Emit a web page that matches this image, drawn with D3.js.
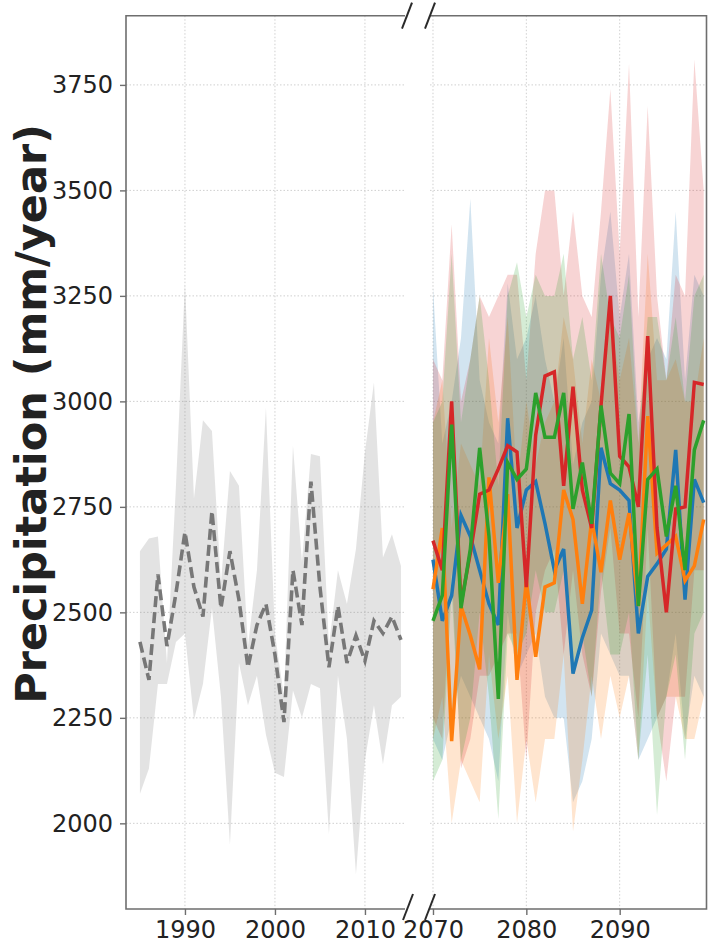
<!DOCTYPE html>
<html>
<head>
<meta charset="utf-8">
<script src="https://cdn.jsdelivr.net/npm/d3@7"></script>
<style>
  body { margin: 0; background: #fff; }
  svg text { font-family: "DejaVu Sans", sans-serif; fill: #222; }
</style>
</head>
<body>
<svg id="chart" width="709" height="951"></svg>
<script>
// ---------- DATA ---------- //
const histYears = d3.range(1985, 2015);
const futYears = d3.range(2070, 2100);

const histMean = [2430, 2340, 2590, 2420, 2545, 2690, 2560, 2490, 2740, 2510,
  2645, 2530, 2370, 2470, 2520, 2400, 2240, 2600, 2470, 2810,
  2560, 2370, 2515, 2380, 2445, 2385, 2480, 2450, 2490, 2435];
const histUp = [2645, 2675, 2680, 2380, 2800, 3280, 2770, 2955, 2930, 2570,
  2835, 2800, 2420, 2600, 2985, 2450, 2300, 2895, 2620, 2875,
  2870, 2420, 2600, 2520, 2650, 2880, 3045, 2630, 2685, 2610];
const histLo = [2070, 2130, 2330, 2330, 2430, 2450, 2245, 2330, 2510, 2300,
  1950, 2380, 2280, 2350, 2210, 2120, 2110, 2315, 2250, 2330,
  2320, 1975, 2350, 2200, 1880, 2150, 2280, 2140, 2280, 2300];

const blueMean = [2625, 2480, 2540, 2730, 2680, 2600, 2520, 2470, 2960, 2700,
  2790, 2810, 2710, 2600, 2650, 2355, 2440, 2505, 2890, 2805,
  2790, 2765, 2450, 2585, 2615, 2650, 2885, 2530, 2815, 2760];
const blueUp = [3270, 2900, 3000, 3150, 3480, 3050, 2950, 2900, 3280, 3100,
  3150, 3250, 3100, 3000, 3150, 2850, 2950, 3000, 3300, 3450,
  3200, 3350, 2950, 3100, 3150, 3100, 3450, 3050, 3300, 3250];
const blueLo = [2200, 2150, 2250, 2350, 2300, 2250, 2200, 2100, 2500, 2350,
  2400, 2450, 2300, 2250, 2250, 2050, 2100, 2200, 2450, 2400,
  2350, 2350, 2150, 2200, 2250, 2300, 2450, 2200, 2350, 2300];

const orangeMean = [2555, 2700, 2195, 2515, 2445, 2365, 2820, 2570, 2780, 2340,
  2575, 2395, 2560, 2570, 2790, 2720, 2520, 2720, 2595, 2765,
  2625, 2735, 2515, 2965, 2640, 2660, 2680, 2575, 2610, 2720];
const orangeUp = [2950, 3050, 2700, 2900, 2850, 2800, 3150, 2950, 3200, 2800,
  3000, 2850, 2950, 3000, 3200, 3100, 2900, 3100, 3000, 3200,
  3050, 3150, 2900, 3350, 3050, 3050, 3100, 3000, 3000, 3150];
const orangeLo = [2200, 2300, 2000, 2150, 2100, 2050, 2400, 2200, 2350, 2000,
  2200, 2050, 2200, 2200, 2400, 1980, 2150, 2350, 2200, 2350,
  2250, 2350, 2150, 2550, 2250, 2300, 2300, 2200, 2200, 2300];

const greenMean = [2480, 2540, 2945, 2510, 2650, 2890, 2680, 2295, 2855, 2815,
  2840, 3020, 2915, 2915, 3020, 2745, 2855, 2710, 2990, 2830,
  2805, 2970, 2515, 2815, 2840, 2680, 2800, 2600, 2885, 2955];
const greenUp = [2950, 3000, 3350, 2950, 3100, 3250, 3050, 2800, 3250, 3330,
  3200, 3300, 3250, 3250, 3350, 3100, 3200, 3050, 3350, 3200,
  3150, 3300, 2900, 3200, 3200, 3050, 3200, 3000, 3250, 3300];
const greenLo = [2100, 2150, 2550, 2150, 2250, 2500, 2300, 2010, 2450, 2400,
  2450, 2600, 2500, 2500, 2600, 2350, 2450, 2300, 2600, 2400,
  2400, 2500, 2150, 2400, 2020, 2300, 2400, 2150, 2450, 2500];

const redMean = [2670, 2600, 3000, 2520, 2640, 2780, 2790, 2840, 2895, 2880,
  2560, 2920, 3060, 3070, 2800, 3035, 2790, 2700, 2990, 3250,
  2870, 2845, 2750, 3155, 2700, 2500, 2745, 2750, 3045, 3040];
const redUp = [3100, 3050, 3420, 3000, 3100, 3250, 3200, 3250, 3300, 3300,
  3050, 3350, 3500, 3500, 3250, 3450, 3250, 3200, 3450, 3740,
  3350, 3800, 3200, 3700, 3250, 3050, 3300, 3250, 3810, 3500];
const redLo = [2250, 2200, 2600, 2130, 2200, 2350, 2350, 2400, 2450, 2450,
  2150, 2500, 2600, 2650, 2400, 2600, 2400, 2300, 2550, 2700,
  2450, 2450, 2250, 2700, 2250, 2100, 2300, 2300, 2600, 2600];

const yTicks = [2000, 2250, 2500, 2750, 3000, 3250, 3500, 3750];
const leftTicks = [1990, 2000, 2010];
const rightTicks = [2070, 2080, 2090];
const yLabel = 'Precipitation (mm/year)';

// ---------- LAYOUT ---------- //
const plotTop = 15.7, plotBottom = 909;
const L = { x0: 126, x1: 405 };
const R = { x0: 430, x1: 706.5 };

const svg = d3.select('#chart');

const y = d3.scaleLinear().domain([1797, 3914]).range([plotBottom, plotTop]);
const xL = d3.scaleLinear().domain([1983.45, 2014.45]).range([L.x0, L.x1]);
const xR = d3.scaleLinear().domain([2069.68, 2099.3]).range([R.x0, R.x1]);

const defs = svg.append('defs');
defs.append('clipPath').attr('id', 'clipL').append('rect')
  .attr('x', L.x0).attr('y', plotTop).attr('width', L.x1 - L.x0).attr('height', plotBottom - plotTop);
defs.append('clipPath').attr('id', 'clipR').append('rect')
  .attr('x', R.x0).attr('y', plotTop).attr('width', R.x1 - R.x0).attr('height', plotBottom - plotTop);

// ---------- GRID ---------- //
function grid(panel, x, ticks, clip) {
  const g = svg.append('g').attr('clip-path', `url(#${clip})`);
  g.selectAll('.gy').data(yTicks).join('line')
    .attr('x1', panel.x0).attr('x2', panel.x1)
    .attr('y1', d => y(d)).attr('y2', d => y(d))
    .attr('stroke', '#cfcfcf').attr('stroke-width', 1).attr('stroke-dasharray', '1.5,2');
  g.selectAll('.gx').data(ticks).join('line')
    .attr('x1', d => x(d)).attr('x2', d => x(d))
    .attr('y1', plotTop).attr('y2', plotBottom)
    .attr('stroke', '#cfcfcf').attr('stroke-width', 1).attr('stroke-dasharray', '1.5,2');
}
grid(L, xL, leftTicks, 'clipL');
grid(R, xR, rightTicks, 'clipR');

// ---------- HISTORICAL ---------- //
const gL = svg.append('g').attr('clip-path', 'url(#clipL)');
const areaL = d3.area()
  .x((d, i) => xL(histYears[i]))
  .y0((d, i) => y(histLo[i]))
  .y1((d, i) => y(histUp[i]));
gL.append('path').datum(histUp).attr('d', areaL)
  .attr('fill', 'gray').attr('fill-opacity', 0.22);
const lineL = d3.line().x((d, i) => xL(histYears[i])).y(d => y(d));
gL.append('path').datum(histMean).attr('d', lineL)
  .attr('fill', 'none').attr('stroke', '#777').attr('stroke-width', 3.6)
  .attr('stroke-dasharray', '11,5');

// ---------- FUTURE ---------- //
const gR = svg.append('g').attr('clip-path', 'url(#clipR)');
const series = [
  { mean: blueMean, up: blueUp, lo: blueLo, color: '#1f77b4' },
  { mean: orangeMean, up: orangeUp, lo: orangeLo, color: '#ff7f0e' },
  { mean: redMean, up: redUp, lo: redLo, color: '#d62728' },
  { mean: greenMean, up: greenUp, lo: greenLo, color: '#2ca02c' }
];
series.forEach(s => {
  const area = d3.area()
    .x((d, i) => xR(futYears[i]))
    .y0((d, i) => y(s.lo[i]))
    .y1((d, i) => y(s.up[i]));
  gR.append('path').datum(s.up).attr('d', area)
    .attr('fill', s.color).attr('fill-opacity', 0.2);
});
const lineR = d3.line().x((d, i) => xR(futYears[i])).y(d => y(d));
series.forEach(s => {
  gR.append('path').datum(s.mean).attr('d', lineR)
    .attr('fill', 'none').attr('stroke', s.color).attr('stroke-width', 3.5)
    .attr('stroke-linejoin', 'miter');
});

// ---------- SPINES & AXES ---------- //
const spine = '#6e6e6e';
svg.append('path')
  .attr('d', `M${L.x1},${plotTop}H${L.x0}V${plotBottom}H${L.x1}`)
  .attr('fill', 'none').attr('stroke', spine).attr('stroke-width', 1.6);
svg.append('path')
  .attr('d', `M${R.x0},${plotTop}H${R.x1}V${plotBottom}H${R.x0}`)
  .attr('fill', 'none').attr('stroke', spine).attr('stroke-width', 1.6);

const yAxis = svg.append('g').attr('transform', `translate(${L.x0},0)`)
  .call(d3.axisLeft(y).tickValues(yTicks).tickSize(6).tickPadding(7).tickFormat(d3.format('d')));
const xAxisL = svg.append('g').attr('transform', `translate(0,${plotBottom})`)
  .call(d3.axisBottom(xL).tickValues(leftTicks).tickSize(6).tickPadding(6).tickFormat(d3.format('d')));
const xAxisR = svg.append('g').attr('transform', `translate(0,${plotBottom})`)
  .call(d3.axisBottom(xR).tickValues(rightTicks).tickSize(6).tickPadding(6).tickFormat(d3.format('d')));

[yAxis, xAxisL, xAxisR].forEach(a => {
  a.select('.domain').remove();
  a.selectAll('.tick line').attr('stroke', spine).attr('stroke-width', 1.4);
  a.selectAll('.tick text').attr('font-size', 24).attr('fill', '#222')
    .style('font-family', '"DejaVu Sans", sans-serif');
});

// y label
svg.append('text')
  .attr('transform', 'translate(46,414) rotate(-90)')
  .attr('text-anchor', 'middle')
  .attr('font-size', 43).attr('font-weight', 'bold')
  .text(yLabel);

// ---------- BREAK MARKS ---------- //
const marks = [[L.x1 + 2, plotTop], [R.x0, plotTop], [L.x1 + 3, plotBottom - 2], [R.x0, plotBottom - 2]];
svg.selectAll('.brk').data(marks).join('line')
  .attr('x1', d => d[0] - 5).attr('y1', d => d[1] + 13)
  .attr('x2', d => d[0] + 5).attr('y2', d => d[1] - 13)
  .attr('stroke', '#2a2a2a').attr('stroke-width', 2);
</script>
</body>
</html>
